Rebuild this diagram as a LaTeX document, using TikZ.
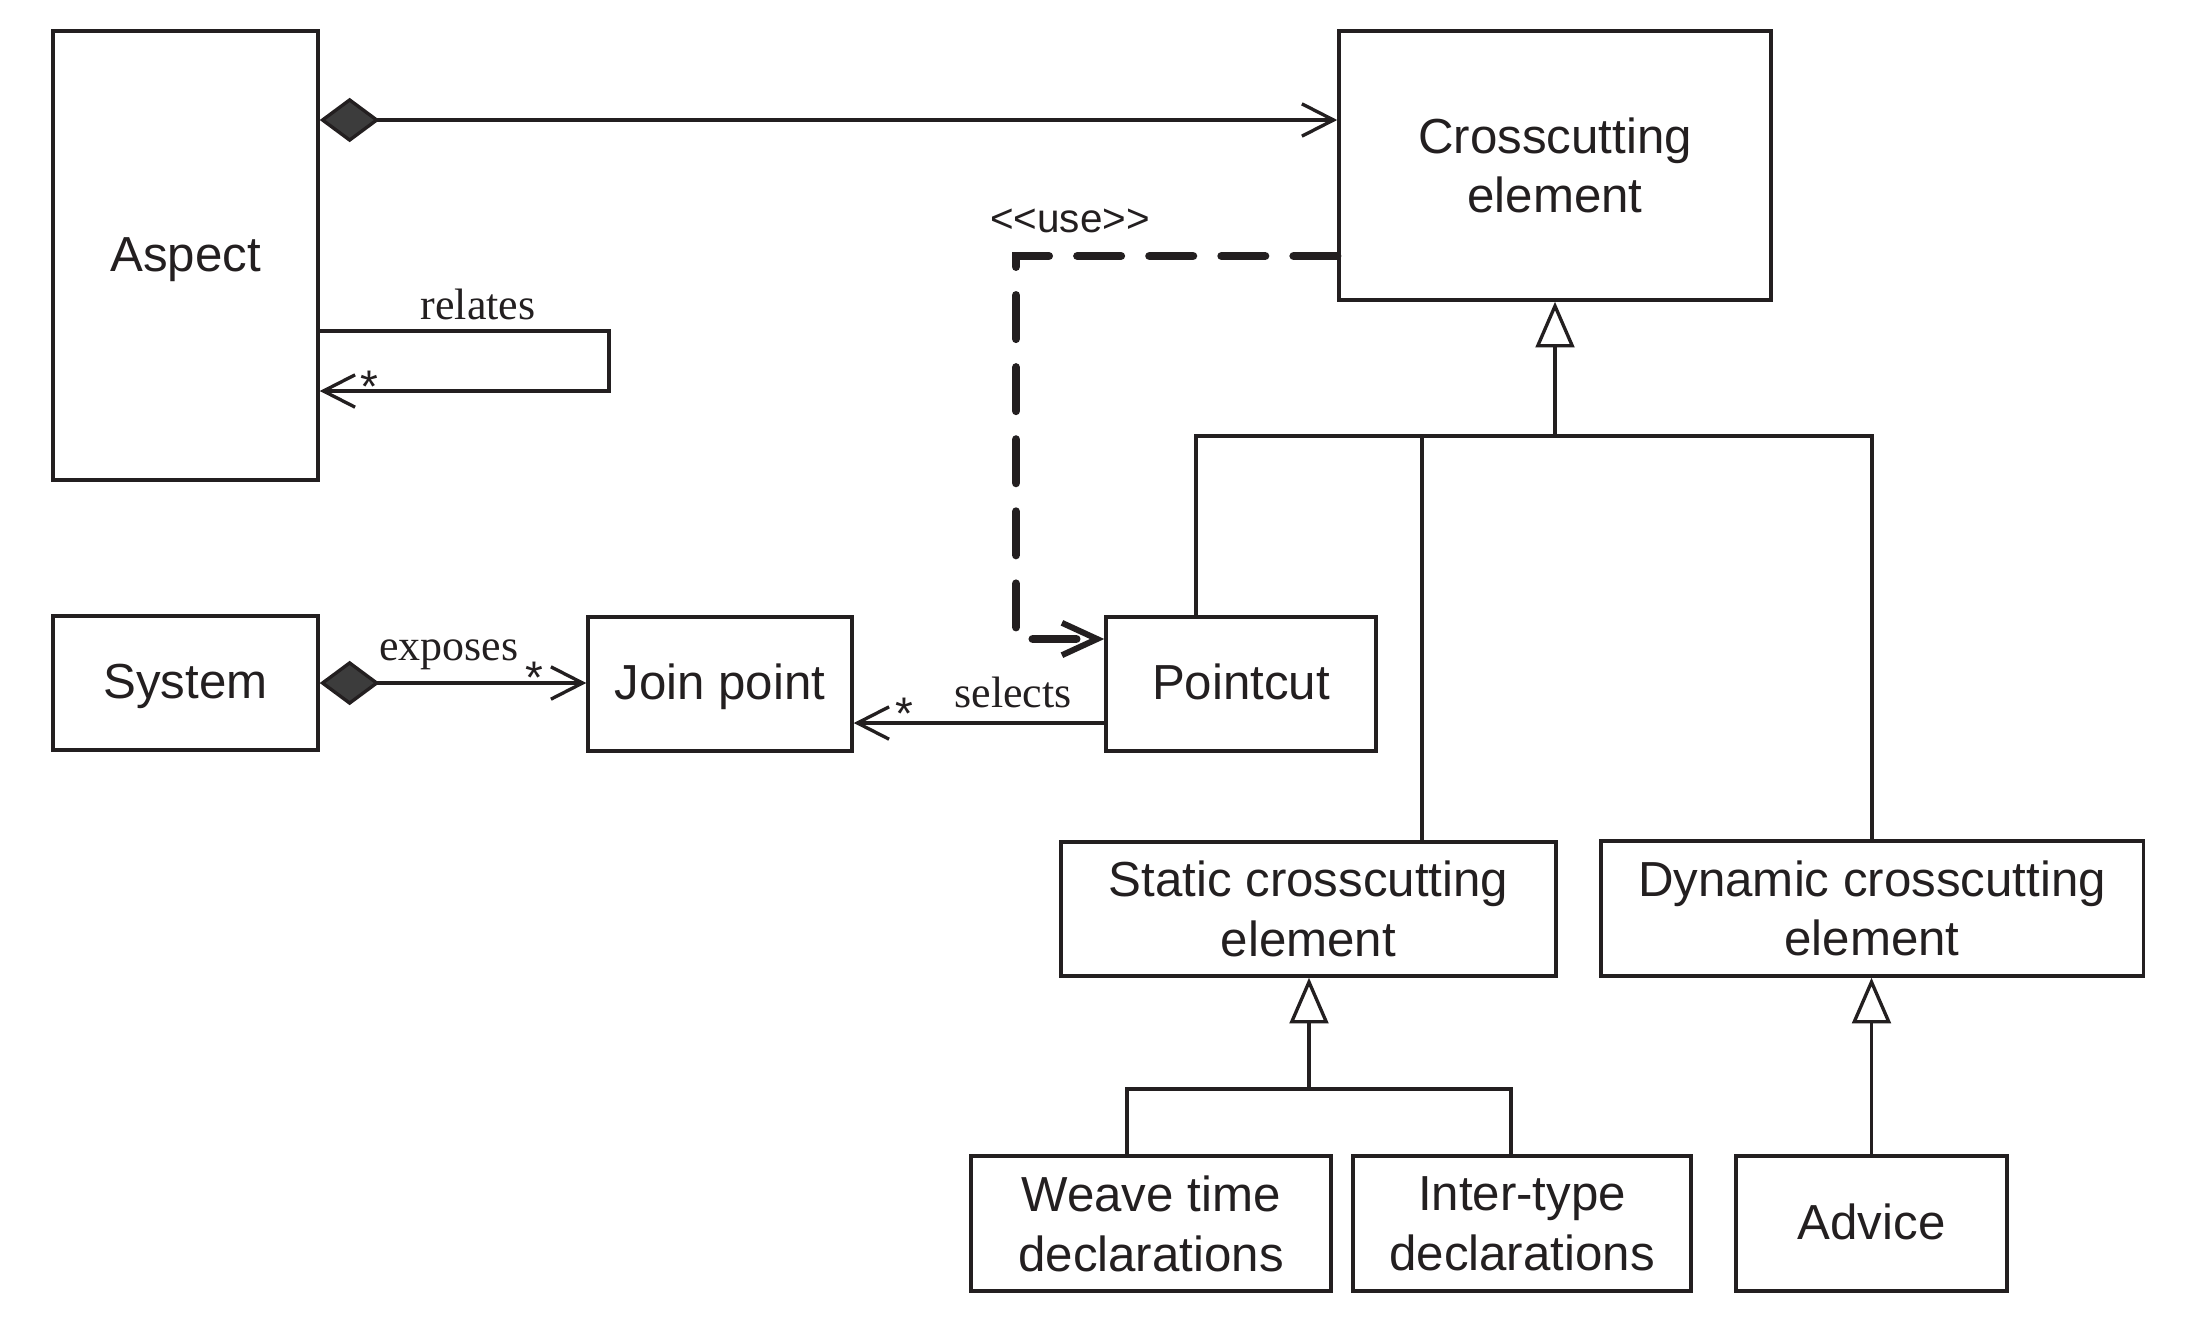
\documentclass[tikz,border=0pt]{standalone}
\usepackage{fontspec}
\setmainfont{Liberation Sans}
\newfontfamily\serifl{Liberation Serif}
\usetikzlibrary{arrows.meta}
\definecolor{ink}{HTML}{231F20}
\definecolor{dfill}{HTML}{3C3C3C}
\tikzset{
  navtip/.tip={Straight Barb[length=9pt,width=9.2pt]},
  usetip/.tip={Straight Barb[length=10pt,width=9.2pt,line width=1.7pt]},
  comptip/.tip={Diamond[length=17pt,width=12.6pt,fill=dfill]},
  gentip/.tip={Triangle[open,length=13pt,width=11pt]},
  box/.style={draw=ink, line width=0.95pt, align=center, inner sep=0pt,
              font=\fontsize{14}{17}\selectfont},
  oneline/.style={text height=10pt, text depth=1pt},
  lbl/.style={font=\serifl\fontsize{12.5}{14}\selectfont, inner sep=0pt},
  mult/.style={font=\fontsize{13}{15}\selectfont, inner sep=0pt},
  stereo/.style={font=\fontsize{11.5}{14}\selectfont, inner sep=0pt},
  conn/.style={draw=ink, line width=0.95pt},
  usedash/.style={draw=ink, line width=2.4pt, line cap=round,
                  dash pattern=on 12.4pt off 8.1pt},
}
\begin{document}
\begin{tikzpicture}[x=0.01cm, y=-0.01cm, color=ink]
\path[use as bounding box] (0,0) rectangle (2190,1333);

% boxes
\node[box, oneline, minimum width=2.65cm, minimum height=4.49cm] (aspect) at (185.5,255.5) {Aspect};
\node[box, minimum width=4.32cm, minimum height=2.69cm] (cross) at (1555,165.5) {Crosscutting\\element};
\node[box, oneline, minimum width=2.65cm, minimum height=1.34cm] (system) at (185.5,683) {System};
\node[box, oneline, minimum width=2.64cm, minimum height=1.34cm] (join) at (720,684) {Join point};
\node[box, oneline, minimum width=2.70cm, minimum height=1.34cm] (pointcut) at (1241,684) {Pointcut};
\node[box, minimum width=4.95cm, minimum height=1.34cm] (static) at (1308.5,909) {Static crosscutting\\element};
\node[box, minimum width=5.42cm, minimum height=1.35cm] (dynamic) at (1872,908.5) {Dynamic crosscutting\\element};
\node[box, minimum width=3.60cm, minimum height=1.35cm] (weave) at (1151,1223.5) {Weave time\\declarations};
\node[box, minimum width=3.38cm, minimum height=1.35cm] (inter) at (1522,1223.5) {Inter-type\\declarations};
\node[box, oneline, minimum width=2.71cm, minimum height=1.35cm] (advice) at (1871.5,1223.5) {Advice};

% helper coordinates
\coordinate (yComp) at (0,120);
\coordinate (yRelA) at (0,331);
\coordinate (yRelB) at (0,391);
\coordinate (xRel) at (609,0);
\coordinate (yUseA) at (0,256);
\coordinate (yUseB) at (0,639);
\coordinate (xUse) at (1016,0);
\coordinate (yExp) at (0,683);
\coordinate (ySel) at (0,723);
\coordinate (trunk) at (1555,436);
\coordinate (xPc) at (1196,0);
\coordinate (xSt) at (1422,0);
\coordinate (tStat) at (1309,1089);
\coordinate (xWv) at (1127,0);
\coordinate (xIt) at (1511,0);

% associations
\draw[conn, {comptip}-{navtip}] (aspect.east |- yComp) -- (cross.west |- yComp);
\draw[conn, -{navtip}] (aspect.east |- yRelA) -- (xRel |- yRelA) -- (xRel |- yRelB) -- (aspect.east |- yRelB);
\draw[conn, {comptip}-{navtip}] (system.east |- yExp) -- (join.west |- yExp);
\draw[conn, -{navtip}] (pointcut.west |- ySel) -- (join.east |- ySel);
\draw[usedash, -{usetip}] (cross.west |- yUseA) -- (xUse |- yUseA) -- (xUse |- yUseB) -- (pointcut.west |- yUseB);

% generalizations
\draw[conn, -{gentip}] (trunk) -- (cross.south);
\draw[conn] (pointcut.north -| xPc) |- (trunk) -| (dynamic.north);
\draw[conn] (xSt |- trunk) -- (static.north -| xSt);
\draw[conn, -{gentip}] (tStat) -- (static.south -| tStat);
\draw[conn] (weave.north -| xWv) |- (tStat) -| (inter.north -| xIt);
\draw[conn, -{gentip}] (advice.north) -- (dynamic.south -| advice.north);

% labels
\node[lbl, anchor=base] (lrel) at (478,319) {relates};
\node[mult, anchor=north] (mrel) at (369,370) {*};
\node[lbl, anchor=base] (lexp) at (449,660) {exposes};
\node[mult, anchor=north] (mexp) at (534,661) {*};
\node[lbl, anchor=base] (lsel) at (1013,707) {selects};
\node[mult, anchor=north] (msel) at (904,697) {*};
\node[stereo, anchor=base] (luse) at (1070,232) {<{}<use>{}>};
\end{tikzpicture}
\end{document}
